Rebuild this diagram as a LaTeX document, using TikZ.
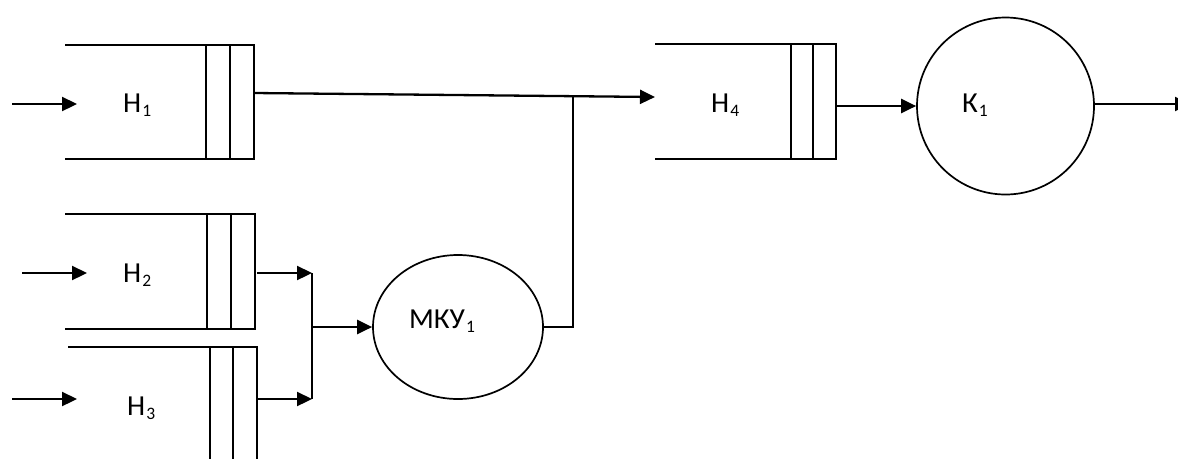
\documentclass[tikz,border=0pt]{standalone}
\usepackage{fontspec}
\setmainfont{Carlito}
\usetikzlibrary{arrows.meta,shapes.geometric}
\newcommand{\qsub}[1]{\kern1pt\raisebox{-4pt}{\fontsize{17.5}{20}\selectfont #1}}
\begin{document}
\begin{tikzpicture}[x=1pt,y=-1pt,
  qline/.style={line width=1.7pt},
  wire/.style={line width=1.6pt},
  flow/.style={line width=2.3pt,-{Triangle[length=15pt,width=14pt]}},
  lbl/.style={font=\fontsize{29}{34}\selectfont, inner sep=0pt, anchor=base west},
  srv/.style={draw, ellipse, line width=1.7pt, inner sep=0pt}]
\useasboundingbox (0,0) rectangle (1178,459);
% queue H1
\draw[qline] (65,45) -- (254,45) -- (254,159) -- (65,159);
\draw[qline] (206,45) -- (206,159) (230,45) -- (230,159);
\coordinate (q1in) at (12,104); \coordinate (q1end) at (77,104);
\coordinate (q1out) at (254,93);
\node[lbl] (h1) at (123,112) {Н\qsub{1}};
% queue H2
\draw[qline] (65,214) -- (255,214) -- (255,329) -- (65,329);
\draw[qline] (207,214) -- (207,329) (231,214) -- (231,329);
\coordinate (q2in) at (22,273); \coordinate (q2end) at (87,273);
\coordinate (q2out) at (257,273);
\node[lbl] (h2) at (123,282) {Н\qsub{2}};
% queue H3
\draw[qline] (68,347) -- (257,347) -- (257,459);
\draw[qline] (210,347) -- (210,459) (233,347) -- (233,459);
\coordinate (q3in) at (12,399); \coordinate (q3end) at (77,399);
\coordinate (q3out) at (257,399);
\node[lbl] (h3) at (127,415) {Н\qsub{3}};
% queue H4
\draw[qline] (655,44) -- (836,44) -- (836,159) -- (655,159);
\draw[qline] (791,44) -- (791,159) (813,44) -- (813,159);
\coordinate (q4in) at (655,97);
\coordinate (q4out) at (836,106);
\node[lbl] (h4) at (711,112) {Н\qsub{4}};
% servers
\node[srv, minimum width=170pt, minimum height=144pt] (mku) at (458,327) {};
\node[lbl] (mkul) at (409,328) {МКУ\qsub{1}};
\node[srv, circle, minimum size=177pt] (k1) at (1005.5,106) {};
\node[lbl] (k1l) at (962,112) {К\qsub{1}};
% junctions
\coordinate (j1a) at (312,273); \coordinate (j1b) at (312,399); \coordinate (j1) at (312,327);
\coordinate (mkuo) at (573,327); \coordinate (j2) at (573,95);
\coordinate (kout) at (1190,104);
% connectors
\draw[flow] (q1in) -- (q1end);
\draw[flow] (q2in) -- (q2end);
\draw[flow] (q3in) -- (q3end);
\draw[flow] (q2out) -- (j1a);
\draw[flow] (q3out) -- (j1b);
\draw[wire] (j1a) -- (j1b);
\draw[flow] (j1) -- (mku.west);
\draw[wire] (mku.east) -- (mkuo) -- (j2);
\draw[flow] (q1out) -- (q4in);
\draw[flow] (q4out) -- (k1.west);
\draw[flow] (k1.east |- kout) -- (kout);
\end{tikzpicture}
\end{document}
